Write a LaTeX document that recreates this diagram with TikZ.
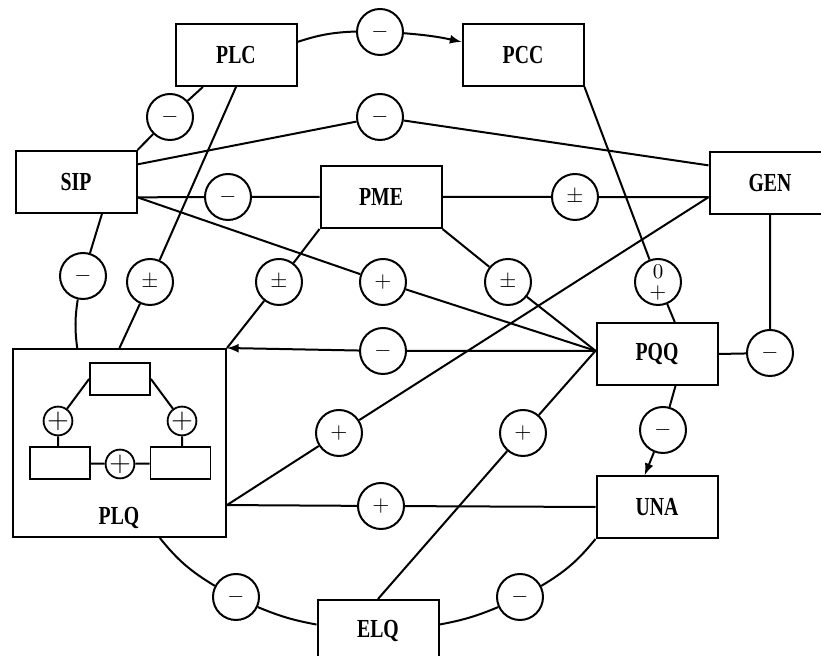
\documentclass[tikz,border=0pt]{standalone}
\usepackage{fontspec}
\newfontfamily\boxfont[FakeStretch=0.76]{Liberation Serif}
\begin{document}
\begin{tikzpicture}[x=0.5pt,y=0.5pt,
    box/.style={draw,line width=1pt,minimum width=60.5pt,minimum height=31pt,inner sep=0pt,
      font=\boxfont\bfseries\fontsize{13}{15}\selectfont},
    sign/.style={draw,circle,line width=1pt,minimum size=23pt,inner sep=0pt,
      font=\fontsize{11}{13}\selectfont},
    subbox/.style={draw,line width=0.9pt,minimum width=30pt,minimum height=16pt,inner sep=0pt},
    subsign/.style={draw,circle,line width=0.9pt,minimum size=11.5pt,inner sep=0pt,
      font=\fontsize{14}{14}\selectfont},
    link/.style={line width=1pt}]
  \useasboundingbox (0,0) rectangle (821,-656);
  \clip (0,0) rectangle (821,-656);
  % blocks
  \node[box] (plc) at (236,-55) {PLC};
  \node[box] (pcc) at (523,-55) {PCC};
  \node[box] (sip) at (76,-182) {SIP};
  \node[box] (pme) at (381,-197) {PME};
  \node[box] (gen) at (770,-183) {GEN};
  \node[box] (pqq) at (657,-354) {PQQ};
  \node[box] (una) at (657,-507) {UNA};
  \node[box] (elq) at (378,-631) {ELQ};
  \node[draw,line width=1pt,minimum width=106.5pt,minimum height=94pt,inner sep=0pt] (plq) at (119.5,-443) {};
  \node[font=\boxfont\bfseries\fontsize{13}{15}\selectfont] (plqname) at (119,-518) {PLQ};
  % inside PLQ
  \node[subbox] (top) at (120,-379) {};
  \node[subbox] (left) at (60,-463) {};
  \node[subbox] (right) at (180.5,-463) {};
  \node[subsign] (lplus) at (58,-421) {$+$};
  \node[subsign] (rplus) at (182,-421) {$+$};
  \node[subsign] (mplus) at (120,-464) {$+$};
  \draw[link] (top.west) -- (lplus) -- (lplus |- left.north);
  \draw[link] (top.east) -- (rplus) -- (rplus |- right.north);
  \draw[link] (left) -- (mplus) -- (right);
  % signs
  \node[sign] (s1) at (380,-32) {$-$};
  \node[sign] (s2) at (170,-117) {$-$};
  \node[sign] (s3) at (380,-117) {$-$};
  \node[sign] (s4) at (228,-197) {$-$};
  \node[sign] (s5) at (575,-197) {$\pm$};
  \node[sign] (s6) at (83,-276) {$-$};
  \node[sign] (s7) at (150,-282) {$\pm$};
  \node[sign] (s8) at (279,-282) {$\pm$};
  \node[sign] (s9) at (383,-282) {$+$};
  \node[sign] (s10) at (508,-282) {$\pm$};
  \node[sign,align=center,font=\fontsize{10.5}{10}\selectfont] (s11) at (658,-282) {0\\$+$};
  \node[sign] (s12) at (383,-351) {$-$};
  \node[sign] (s13) at (770,-353) {$-$};
  \node[sign] (s14) at (339,-433) {$+$};
  \node[sign] (s15) at (523,-433) {$+$};
  \node[sign] (s16) at (663,-430) {$-$};
  \node[sign] (s17) at (381,-506) {$+$};
  \node[sign] (s18) at (236,-597) {$-$};
  \node[sign] (s19) at (520,-597) {$-$};
  % links
  \draw[link] (plc.12) to[bend left=8] (s1);
  \draw[link,-latex] (s1) to[bend left=4] (pcc.168);
  \draw[link] (plc.224) -- (s2) -- (sip.north east);
  \draw[link] (sip.16) -- (s3) -- (gen.164);
  \draw[link] (sip.-14) -- (s4) -- (pme.west);
  \draw[link] (pme.east) -- (s5) -- (gen.193);
  \draw[link] (sip.-51) -- (s6);
  \draw[link] (s6) to[bend right=8] (plq.114);
  \draw[link] (plc.south) -- (s7) -- (plq.north);
  \draw[link] (pme.south west) -- (s8) -- (plq.north east);
  \draw[link] (sip.-14) -- (s9) -- (pqq.177);
  \draw[link] (pme.south east) -- (s10) -- (pqq.177);
  \draw[link] (pcc.south east) -- (s11) -- (pqq.61);
  \draw[link,-latex] (pqq.177) -- (s12) -- (plq.north east);
  \draw[link] (gen.south) -- (s13) -- (pqq.east);
  \draw[link] (gen.193) -- (s14) -- (plq.-30);
  \draw[link] (pqq.177) -- (s15) -- (elq.north);
  \draw[link,-latex] (pqq.-60) -- (s16) -- (una.111);
  \draw[link] (plq.-30) -- (s17) -- (una.west);
  \draw[link] (plq.-67) to[bend right=10] (s18);
  \draw[link] (s18) to[bend right=6] (elq.174);
  \draw[link] (elq.6) to[bend right=6] (s19);
  \draw[link] (s19) to[bend right=10] (una.south west);
\end{tikzpicture}
\end{document}
